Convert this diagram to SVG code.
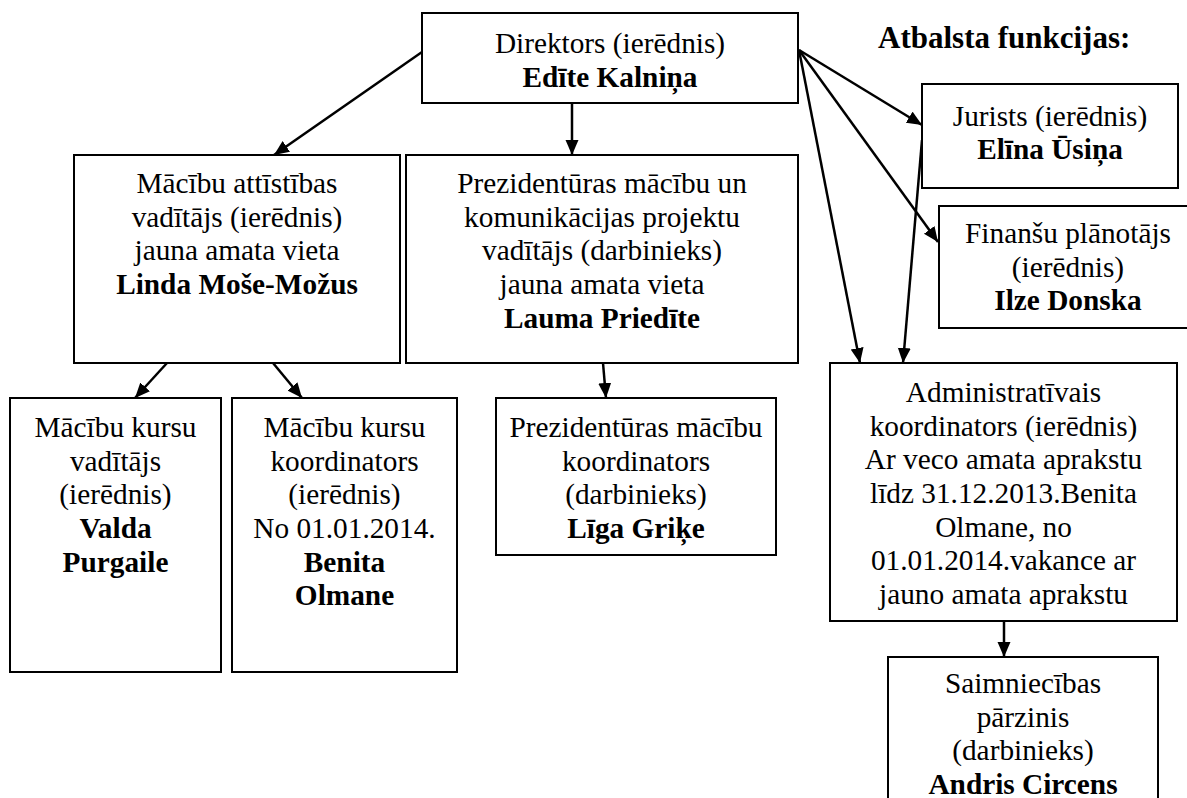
<svg xmlns="http://www.w3.org/2000/svg" width="1187" height="798" viewBox="0 0 1187 798">
<style>
.box{fill:#fff;stroke:#000;stroke-width:2}
.t{font-family:"Liberation Serif","Times New Roman",serif;font-size:29.3px;fill:#000;text-anchor:middle}
.b{font-weight:bold}
.h{font-family:"Liberation Serif","Times New Roman",serif;font-size:31px;font-weight:bold;fill:#000}
.c{stroke:#000;stroke-width:2.5;fill:none;marker-end:url(#ah)}
</style>
<defs>
<marker id="ah" markerUnits="userSpaceOnUse" markerWidth="16" markerHeight="14" refX="15" refY="6.5" orient="auto">
<path d="M0,0 L15,6.5 L0,13 z" fill="#000"/>
</marker>
</defs>
<rect width="1187" height="798" fill="#fff"/>
<text class="h" x="878" y="48">Atbalsta funkcijas:</text>
<g id="connectors">
<line class="c" x1="422" y1="52" x2="274" y2="155"/>
<line class="c" x1="572" y1="103" x2="572" y2="155"/>
<line class="c" x1="799" y1="50" x2="922" y2="125"/>
<line class="c" x1="799" y1="50" x2="938" y2="242"/>
<line class="c" x1="799" y1="50" x2="860" y2="363"/>
<line class="c" x1="922" y1="140" x2="903" y2="363"/>
<line class="c" x1="167" y1="363" x2="135" y2="398"/>
<line class="c" x1="273" y1="363" x2="302" y2="398"/>
<line class="c" x1="603" y1="363" x2="606" y2="398"/>
<line class="c" x1="1004" y1="621" x2="1004" y2="657"/>
</g>
<g id="director">
<rect class="box" x="422" y="13" width="376" height="90"/>
<text class="t" x="610" y="53">Direktors (ierēdnis)</text>
<text class="t b" x="610" y="87">Edīte Kalniņa</text>
</g>
<g id="jurists">
<rect class="box" x="922" y="84" width="256" height="104"/>
<text class="t" x="1050" y="126">Jurists (ierēdnis)</text>
<text class="t b" x="1050" y="159">Elīna Ūsiņa</text>
</g>
<g id="finansu">
<rect class="box" x="939" y="206" width="258" height="122"/>
<text class="t" x="1068" y="243">Finanšu plānotājs</text>
<text class="t" x="1068" y="277">(ierēdnis)</text>
<text class="t b" x="1068" y="310">Ilze Donska</text>
</g>
<g id="macibu-attistibas">
<rect class="box" x="74" y="155" width="326" height="208"/>
<text class="t" x="237" y="193">Mācību attīstības</text>
<text class="t" x="237" y="227">vadītājs (ierēdnis)</text>
<text class="t" x="237" y="260">jauna amata vieta</text>
<text class="t b" x="237" y="294">Linda Moše-Možus</text>
</g>
<g id="prezidenturas-projektu">
<rect class="box" x="406" y="155" width="392" height="208"/>
<text class="t" x="602" y="193">Prezidentūras mācību un</text>
<text class="t" x="602" y="227">komunikācijas projektu</text>
<text class="t" x="602" y="260">vadītājs (darbinieks)</text>
<text class="t" x="602" y="294">jauna amata vieta</text>
<text class="t b" x="602" y="328">Lauma Priedīte</text>
</g>
<g id="kursu-vaditajs">
<rect class="box" x="10" y="398" width="211" height="274"/>
<text class="t" x="115.5" y="437">Mācību kursu</text>
<text class="t" x="115.5" y="471">vadītājs</text>
<text class="t" x="115.5" y="504">(ierēdnis)</text>
<text class="t b" x="115.5" y="538">Valda</text>
<text class="t b" x="115.5" y="572">Purgaile</text>
</g>
<g id="kursu-koordinators">
<rect class="box" x="232" y="398" width="225" height="274"/>
<text class="t" x="344.5" y="437">Mācību kursu</text>
<text class="t" x="344.5" y="471">koordinators</text>
<text class="t" x="344.5" y="504">(ierēdnis)</text>
<text class="t" x="344.5" y="538">No 01.01.2014.</text>
<text class="t b" x="344.5" y="572">Benita</text>
<text class="t b" x="344.5" y="605">Olmane</text>
</g>
<g id="prezidenturas-koordinators">
<rect class="box" x="496" y="398" width="280" height="157"/>
<text class="t" x="636" y="437">Prezidentūras mācību</text>
<text class="t" x="636" y="471">koordinators</text>
<text class="t" x="636" y="504">(darbinieks)</text>
<text class="t b" x="636" y="538">Līga Griķe</text>
</g>
<g id="administrativais">
<rect class="box" x="830" y="363" width="347" height="258"/>
<text class="t" x="1003.5" y="402">Administratīvais</text>
<text class="t" x="1003.5" y="436">koordinators (ierēdnis)</text>
<text class="t" x="1003.5" y="469">Ar veco amata aprakstu</text>
<text class="t" x="1003.5" y="503">līdz 31.12.2013.Benita</text>
<text class="t" x="1003.5" y="537">Olmane, no</text>
<text class="t" x="1003.5" y="570">01.01.2014.vakance ar</text>
<text class="t" x="1003.5" y="604">jauno amata aprakstu</text>
</g>
<g id="saimniecibas">
<rect class="box" x="888" y="657" width="270" height="160"/>
<text class="t" x="1023" y="693">Saimniecības</text>
<text class="t" x="1023" y="727">pārzinis</text>
<text class="t" x="1023" y="760">(darbinieks)</text>
<text class="t b" x="1023" y="794">Andris Circens</text>
</g>
</svg>
